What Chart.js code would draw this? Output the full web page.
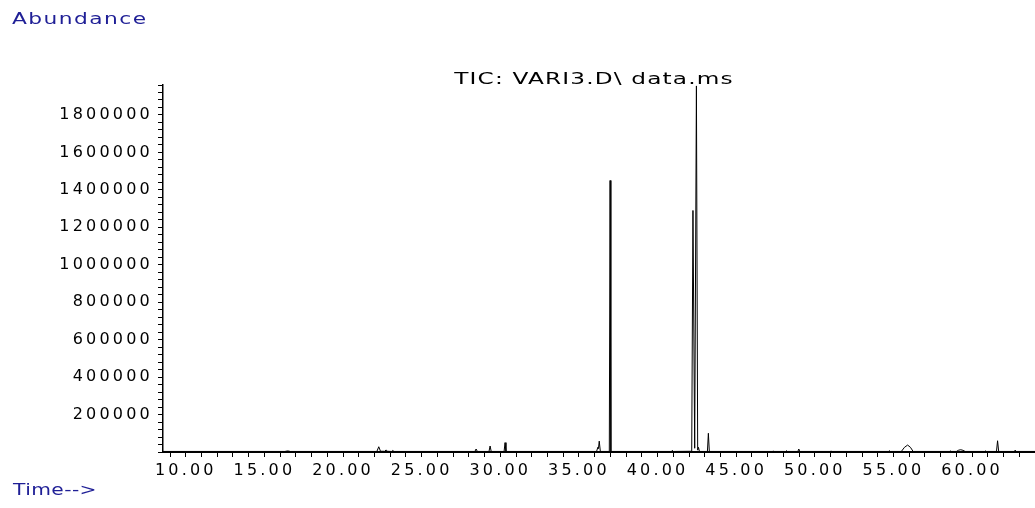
<!DOCTYPE html>
<html>
<head>
<meta charset="utf-8">
<script src="https://cdn.jsdelivr.net/npm/chart.js@4/dist/chart.umd.min.js"></script>
<style>
  html, body { margin: 0; padding: 0; background: #ffffff; }
  #wrap { width: 1035px; height: 508px; position: relative; }
</style>
</head>
<body>
<div id="wrap"><canvas id="c"></canvas></div>
<script>
// ---- data ----
const times = [8.55, 16.30, 16.48, 16.65, 22.15, 22.27, 22.38, 22.65, 22.74, 22.82, 23.08, 23.16, 23.24,
  28.38, 28.46, 28.54, 29.28, 29.35, 29.42, 30.24, 30.30, 30.36,
  36.12, 36.20, 36.24, 36.29, 36.36, 36.93, 36.98, 37.03,
  40.88, 40.94, 41.00, 42.17, 42.25, 42.36, 42.47, 42.55, 42.60, 42.66,
  43.17, 43.23, 43.29, 47.30, 47.35, 47.40, 48.14, 48.20, 48.26, 48.92, 48.98, 49.04,
  50.98, 51.03, 51.08, 54.68, 54.74, 54.80, 55.50, 55.70, 55.90, 56.08, 56.25,
  58.56, 58.61, 58.66, 59.00, 59.15, 59.28, 59.42, 59.56,
  60.79, 60.84, 60.89, 61.55, 61.62, 61.69, 62.68, 62.74, 62.80, 64.00];
const abundance = [3000, 3000, 6000, 3000, 3000, 28000, 4000, 4000, 11000, 4000, 3000, 8000, 3000,
  3000, 16000, 3000, 3000, 32000, 3000, 3000, 50000, 3000,
  3000, 25000, 18000, 58000, 3000, 3000, 1450000, 3000,
  3000, 9000, 3000, 4000, 1290000, 20000, 1955000, 10000, 25000, 3000,
  3000, 100000, 3000, 3000, 5000, 3000, 3000, 7000, 3000, 3000, 16000, 3000,
  3000, 5000, 3000, 3000, 7000, 3000, 3000, 25000, 37000, 25000, 3000,
  3000, 6000, 3000, 3000, 10000, 12000, 9000, 3000,
  3000, 6000, 3000, 3000, 60000, 3000, 3000, 10000, 3000, 3000];
const xLabelStep = 5;          // minutes between labelled ticks
const xMinorStep = 1;          // minutes between ticks
const yLabelStep = 200000;     // abundance between labelled ticks
const yMinorStep = 40000;      // abundance between ticks
const titleText = 'TIC: VARI3.D\\ data.ms';
const yTitle = 'Abundance';
const xTitle = 'Time-->';

const points = times.map((t, i) => ({ x: t, y: abundance[i] }));

const TICK_SPACING = '3.2px';
const spacingPlugin = {
  id: 'spacing',
  beforeLayout(chart) { chart.ctx.letterSpacing = TICK_SPACING; },
  beforeDraw(chart) { chart.ctx.letterSpacing = TICK_SPACING; }
};

function drawText(ctx, text, x, y, opts) {
  ctx.save();
  ctx.letterSpacing = opts.spacing + 'px';
  ctx.font = opts.font;
  ctx.fillStyle = opts.color;
  ctx.textAlign = opts.align || 'left';
  ctx.textBaseline = 'alphabetic';
  ctx.translate(x, y);
  ctx.scale(opts.sx || 1, 1);
  ctx.fillText(text, 0, 0);
  ctx.restore();
}

const labelsPlugin = {
  id: 'labels',
  afterDraw(chart) {
    const ctx = chart.ctx;
    drawText(ctx, yTitle, 12, 24, { font: '15px "DejaVu Sans"', color: '#1f1f96', spacing: 1, sx: 1.45 });
    drawText(ctx, xTitle, 13, 495, { font: '15px "DejaVu Sans"', color: '#1f1f96', spacing: 0.3, sx: 1.35 });
    drawText(ctx, titleText, 594, 84, { font: '16px "DejaVu Sans"', color: '#000000', spacing: 0.8, sx: 1.45, align: 'center' });
  }
};

new Chart(document.getElementById('c'), {
  type: 'line',
  data: {
    datasets: [{
      data: points,
      borderColor: '#000000',
      borderWidth: 1,
      pointRadius: 0,
      tension: 0,
      fill: false
    }]
  },
  options: {
    responsive: true,
    maintainAspectRatio: false,
    animation: false,
    events: [],
    layout: { padding: { top: 85, right: 0, bottom: 0, left: 0 } },
    plugins: { legend: { display: false }, tooltip: { enabled: false }, title: { display: false } },
    scales: {
      x: {
        type: 'linear',
        min: 8.55,
        max: 64,
        grid: { display: true, drawOnChartArea: false, drawTicks: true, tickLength: 5, tickColor: '#000000', tickWidth: 1 },
        border: { display: true, color: '#000000', width: 2 },
        ticks: {
          stepSize: xMinorStep,
          includeBounds: false,
          autoSkip: false,
          maxRotation: 0,
          minRotation: 0,
          padding: 4,
          color: '#000000',
          font: { family: 'DejaVu Sans', size: 16 },
          callback: (v) => (Math.abs(v / xLabelStep - Math.round(v / xLabelStep)) < 1e-6 && v >= 10 && v <= 60) ? v.toFixed(2) : ''
        },
        afterFit: (s) => { s.height = 56; s.paddingLeft = 0; s.paddingRight = 0; }
      },
      y: {
        type: 'linear',
        min: 0,
        max: 1960000,
        grid: { display: true, drawOnChartArea: false, drawTicks: true, tickLength: 5, tickColor: '#000000', tickWidth: 1 },
        border: { display: true, color: '#000000', width: 1.5 },
        ticks: {
          stepSize: yMinorStep,
          includeBounds: false,
          autoSkip: false,
          padding: 5,
          color: '#000000',
          font: { family: 'DejaVu Sans', size: 16 },
          callback: (v) => (v > 0 && v % yLabelStep === 0) ? String(v) : ''
        },
        afterFit: (s) => { s.width = 163; s.paddingTop = 0; s.paddingBottom = 0; }
      }
    }
  },
  plugins: [spacingPlugin, labelsPlugin]
});
</script>
</body>
</html>
